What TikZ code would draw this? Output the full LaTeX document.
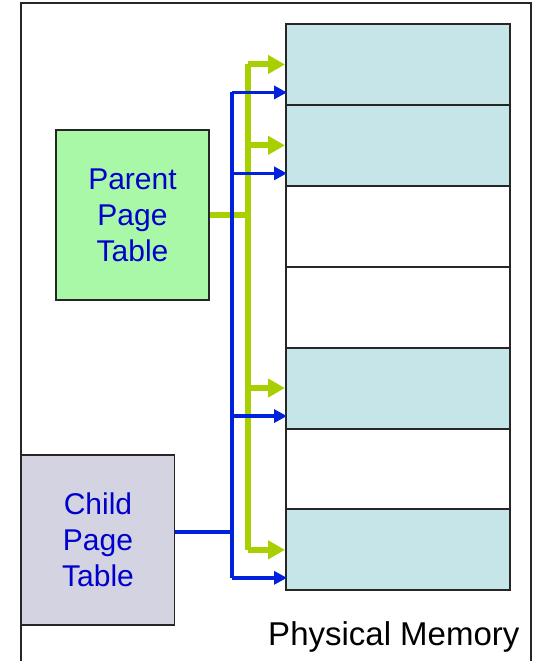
\documentclass[tikz,border=0pt]{standalone}
\usepackage{fontspec}
\setmainfont{Liberation Sans}
\usetikzlibrary{arrows.meta}
\definecolor{framefill}{HTML}{C5E5E8}
\definecolor{parentfill}{HTML}{A8F8A8}
\definecolor{childfill}{HTML}{D3D3E1}
\definecolor{greenline}{HTML}{A8D000}
\definecolor{blueline}{HTML}{0022DD}
\definecolor{labelblue}{HTML}{0000CC}
\tikzset{
  frame/.style={draw=black!85, line width=2pt, minimum width=224pt, minimum height=80.9pt, inner sep=0pt},
  table/.style={draw=black!85, line width=1.5pt, minimum width=153pt, minimum height=170pt, align=center,
                text=labelblue, font=\fontsize{30}{36}\selectfont},
  parentmap/.style={greenline, line width=6pt},
  childmap/.style={blueline, line width=3.5pt},
}
\begin{document}
\begin{tikzpicture}[x=1pt, y=-1pt]
  \useasboundingbox (0,0) rectangle (533,661);
  \draw[line width=2pt, black!85] (21,670) -- (21,3) -- (531,3) -- (531,670);
  % physical memory frames
  \foreach \i/\c in {1/framefill, 2/framefill, 3/white, 4/white, 5/framefill, 6/white, 7/framefill}{
    \node[frame, fill=\c] (f\i) at (398, {24+40.45+80.9*(\i-1)}) {};
    \coordinate (b\i) at ([yshift=-28pt]f\i.west);
  }
  \node[anchor=base east, font=\fontsize{33}{36}\selectfont] (mem) at (523,645) {Physical Memory};
  % page tables
  \node[table, fill=parentfill] (parent) at (132.5,215) {Parent\\Page\\Table};
  \node[table, fill=childfill] (child) at (98,540) {Child\\Page\\Table};
  \coordinate (gbus) at (247.5,215);
  \coordinate (bbus) at (232,532);
  % parent mappings
  \draw[parentmap] (parent.east |- gbus) -- (gbus);
  \draw[parentmap] (gbus |- f1.west) -- (gbus |- f7.west);
  \foreach \i in {1,2,5,7}
    \draw[parentmap, -{Triangle[length=17pt, width=18pt]}] (gbus |- f\i.west) -- (f\i.west);
  % child mappings
  \draw[childmap] (child.east |- bbus) -- (bbus);
  \draw[childmap] (bbus |- b1) -- (bbus |- b7);
  \foreach \i in {1,2,5,7}
    \draw[childmap, -{Triangle[length=13pt, width=13pt]}] (bbus |- b\i) -- ([xshift=2pt]b\i);
\end{tikzpicture}
\end{document}
